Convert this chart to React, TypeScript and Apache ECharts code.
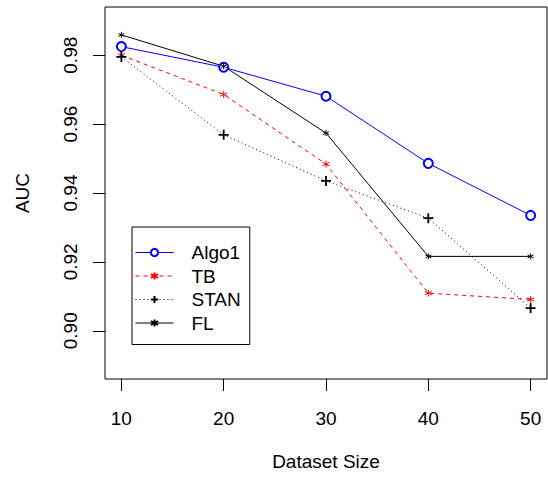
import React, { useEffect, useRef } from "react";
import * as echarts from "echarts";

const datasetSizes = [10, 20, 30, 40, 50];
const algo1 = [0.9825, 0.9765, 0.9681, 0.9486, 0.9335];
const tb = [0.98, 0.9686, 0.9484, 0.9109, 0.9091];
const stan = [0.9795, 0.9569, 0.9435, 0.9327, 0.9066];
const fl = [0.9859, 0.9768, 0.9574, 0.9216, 0.9216];
const xTicks = [10, 20, 30, 40, 50];
const yTicks = [0.9, 0.92, 0.94, 0.96, 0.98];

const FONT = "Liberation Sans, Arial, Helvetica, sans-serif";
const STAR = "path://M5 0 L5 10 M0.67 2.5 L9.33 7.5 M0.67 7.5 L9.33 2.5";
const PLUS = "path://M5 0 L5 10 M0 5 L10 5";
const FS = 19;

const pairs = (ys: number[]) => datasetSizes.map((x, i) => [x, ys[i]]);

export default function App() {
  const ref = useRef<HTMLDivElement>(null);
  useEffect(() => {
    if (!ref.current) return;
    const chart = echarts.init(ref.current, undefined, { renderer: "svg" });
    chart.setOption({
      animation: false,
      backgroundColor: "#fff",
      textStyle: { fontFamily: FONT },
      grid: {
        left: 105,
        top: 7,
        right: 1,
        bottom: 98,
        show: true,
        borderColor: "#000",
        borderWidth: 1,
        backgroundColor: "transparent",
      },
      xAxis: {
        type: "value",
        min: 8.4,
        max: 51.6,
        name: "Dataset Size",
        nameLocation: "middle",
        nameGap: 73,
        nameTextStyle: { fontSize: FS, color: "#000", fontFamily: FONT },
        splitLine: { show: false },
        axisLine: { show: false },
        axisTick: {
          show: true,
          customValues: xTicks,
          length: 12,
          lineStyle: { color: "#000", width: 1 },
        },
        axisLabel: {
          customValues: xTicks,
          margin: 29.5,
          fontSize: FS,
          color: "#000",
          fontFamily: FONT,
        },
      },
      yAxis: {
        type: "value",
        min: 0.886,
        max: 0.994,
        name: "AUC",
        nameLocation: "middle",
        nameGap: 73.5,
        nameRotate: 90,
        nameTextStyle: { fontSize: FS, color: "#000", fontFamily: FONT },
        splitLine: { show: false },
        axisLine: { show: false },
        axisTick: {
          show: true,
          customValues: yTicks,
          length: 12,
          lineStyle: { color: "#000", width: 1 },
        },
        axisLabel: {
          customValues: yTicks,
          rotate: 90,
          align: "center",
          verticalAlign: "bottom",
          margin: 25,
          fontSize: FS,
          color: "#000",
          fontFamily: FONT,
          formatter: (v: number) => v.toFixed(2),
        },
      },
      legend: {
        orient: "vertical",
        left: 132,
        top: 227,
        backgroundColor: "#fff",
        borderColor: "#000",
        borderWidth: 1,
        borderRadius: 0,
        padding: [16, 9, 12, 3],
        itemWidth: 38,
        itemHeight: 9,
        itemGap: 4.5,
        selectedMode: false,
        lineStyle: { width: 1 },
        textStyle: { fontSize: FS, color: "#000", fontFamily: FONT, padding: [0, 0, 0, 13] },
        data: ["Algo1", "TB", "STAN", "FL"],
      },
      series: [
        {
          name: "Algo1",
          type: "line",
          data: pairs(algo1),
          symbol: "emptyCircle",
          symbolSize: 9,
          lineStyle: { color: "#0000FF", width: 1 },
          itemStyle: { color: "#0000FF", borderColor: "#0000FF", borderWidth: 1.5 },
        },
        {
          name: "TB",
          type: "line",
          data: pairs(tb),
          symbol: STAR,
          symbolSize: 7,
          lineStyle: { color: "#FF0000", width: 1, type: [4, 4] },
          itemStyle: { color: "#FF0000", borderColor: "#FF0000", borderWidth: 1 },
        },
        {
          name: "STAN",
          type: "line",
          data: pairs(stan),
          symbol: PLUS,
          symbolSize: 10,
          lineStyle: { color: "#000", width: 1, type: [1, 3] },
          itemStyle: { color: "#000", borderColor: "#000", borderWidth: 1.8 },
        },
        {
          name: "FL",
          type: "line",
          data: pairs(fl),
          symbol: STAR,
          symbolSize: 6,
          lineStyle: { color: "#000", width: 1 },
          itemStyle: { color: "#000", borderColor: "#000", borderWidth: 1 },
        },
      ],
    });
    return () => chart.dispose();
  }, []);
  return (
    <div
      ref={ref}
      style={{ position: "fixed", left: 0, top: 0, width: 548, height: 477 }}
    />
  );
}
